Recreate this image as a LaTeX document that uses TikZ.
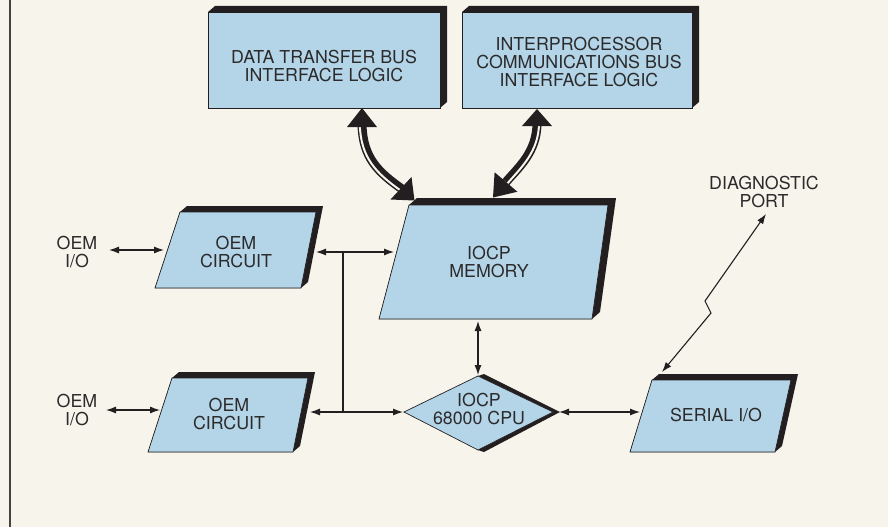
\documentclass[tikz,border=0pt]{standalone}
\usepackage{fontspec}
\setmainfont{TeX Gyre Heros}
\usetikzlibrary{arrows.meta}
\definecolor{bg}{HTML}{F7F4EB}
\definecolor{facecol}{HTML}{B4D4E8}
\definecolor{ink}{HTML}{231F20}
\definecolor{txt}{HTML}{2B2B2B}
\tikzset{
  lbl/.style={font=\fontsize{17.8}{18.4}\selectfont, text=txt, align=center, inner sep=0pt},
  facefill/.style={fill=facecol, draw=ink, line width=0.7pt},
  shadowfill/.style={fill=ink},
  conn/.style={draw=ink, line width=1.1pt},
  twoway/.style={conn, {Latex[length=10pt,width=7pt]}-{Latex[length=10pt,width=7pt]}},
  thickband/.style={draw=ink, line width=9pt},
  stripe/.style={draw=bg, line width=2pt},
  bighead/.style={fill=ink}
}
\begin{document}
\begin{tikzpicture}[x=1pt,y=-1pt]
\fill[bg] (0,0) rectangle (888,527);
\useasboundingbox (0,0) rectangle (888,527);
\draw[ink!85, line width=2.5pt] (10,0) -- (10,527);

% Data transfer bus box
\fill[shadowfill] (208,12)--(215,6)--(447,6)--(447,102)--(440,108)--(208,108)--cycle;
\draw[facefill] (208,12) rectangle (440,108);
\node[lbl] (dtb) at (324,66) {DATA TRANSFER BUS\\INTERFACE LOGIC};

% Interprocessor box
\fill[shadowfill] (462,12)--(469,6)--(699,6)--(699,102)--(692,108)--(462,108)--cycle;
\draw[facefill] (462,12) rectangle (692,108);
\node[lbl] (ipc) at (579,62) {INTERPROCESSOR\\COMMUNICATIONS BUS\\INTERFACE LOGIC};

% OEM circuit 1
\fill[shadowfill] (180,212)--(187,206)--(323,206)--(308,282)--(301,288)--(155,288)--cycle;
\draw[facefill] (180,212)--(316,212)--(301,288)--(155,288)--cycle;
\node[lbl] (oem1) at (236,252) {OEM\\CIRCUIT};

% IOCP memory
\fill[shadowfill] (409,205)--(417,198)--(616,198)--(600,312)--(592,319)--(379,319)--cycle;
\draw[facefill] (409,205)--(608,205)--(592,319)--(379,319)--cycle;
\node[lbl] (mem) at (489,262) {IOCP\\MEMORY};

% OEM circuit 2
\fill[shadowfill] (172,378)--(179,372)--(315,372)--(300,446)--(293,452)--(148,452)--cycle;
\draw[facefill] (172,378)--(308,378)--(293,452)--(148,452)--cycle;
\node[lbl] (oem2) at (229,414) {OEM\\CIRCUIT};

% CPU diamond
\fill[shadowfill] (478,376)--(484,374)--(560,412)--(484,452)--(478,450)--(553,412)--cycle;
\draw[facefill] (404,412)--(478,376)--(553,412)--(478,450)--cycle;
\node[lbl] (cpu) at (479,409) {IOCP\\68000 CPU};

% Serial I/O
\fill[shadowfill] (652,380)--(659,374)--(798,374)--(782,446)--(775,452)--(630,452)--cycle;
\draw[facefill] (652,380)--(791,380)--(775,452)--(630,452)--cycle;
\node[lbl] (ser) at (716,415) {SERIAL I/O};

% Labels
\node[lbl] (diag) at (764,192) {DIAGNOSTIC\\PORT};
\node[lbl] (io1) at (77,252) {OEM\\I/O};
\node[lbl] (io2) at (77,410) {OEM\\I/O};

% connection points
\coordinate (io1r) at (109,250);
\coordinate (oem1l) at (164,250);
\coordinate (io2r) at (106,410);
\coordinate (oem2l) at (160,410);
\coordinate (oem1r) at (316,252);
\coordinate (meml) at (394,252);
\coordinate (busT) at (343,252);
\coordinate (busB) at (343,412);
\coordinate (oem2r) at (310,412);
\coordinate (cpul) at (403,412);
\coordinate (memb) at (478,321);
\coordinate (cput) at (478,375);
\coordinate (cpur) at (559,412);
\coordinate (serl) at (640,412);
\coordinate (diagb) at (766,214);
\coordinate (zigA) at (705,301);
\coordinate (zigB) at (711,313);
\coordinate (sert) at (662,372);

\draw[twoway] (io1r) -- (oem1l);
\draw[twoway] (io2r) -- (oem2l);
\draw[twoway] (oem1r) -- (meml);
\draw[conn] (busT) -- (busB);
\draw[twoway] (oem2r) -- (cpul);
\draw[twoway] (memb) -- (cput);
\draw[twoway] (cpur) -- (serl);
\draw[twoway] (diagb) -- (zigA) -- (zigB) -- (sert);

% Thick double arrows
\coordinate (a1s) at (362,125);
\coordinate (a1e) at (402,189);
\draw[thickband] (a1s) .. controls (363,158) and (378,172) .. (a1e);
\draw[stripe] (359.8,125) .. controls (360.8,158) and (376.6,173.5) .. (400.6,190.5);
\fill[bighead] (362,108) -- (377,127) -- (347,127) -- cycle;
\fill[bighead] (414.5,200.5) -- (390.5,199.5) -- (411.5,177) -- cycle;

\coordinate (a2s) at (537,124);
\coordinate (a2e) at (506,182);
\draw[thickband] (a2s) .. controls (536.5,152) and (519,167) .. (a2e);
\draw[stripe] (539,124) .. controls (538.5,152) and (520.5,168.3) .. (507.5,183.3);
\fill[bighead] (537,109) -- (552,126) -- (522,126) -- cycle;
\fill[bighead] (493,197.5) -- (517.4,191.75) -- (494.6,172.25) -- cycle;
\end{tikzpicture}
\end{document}
